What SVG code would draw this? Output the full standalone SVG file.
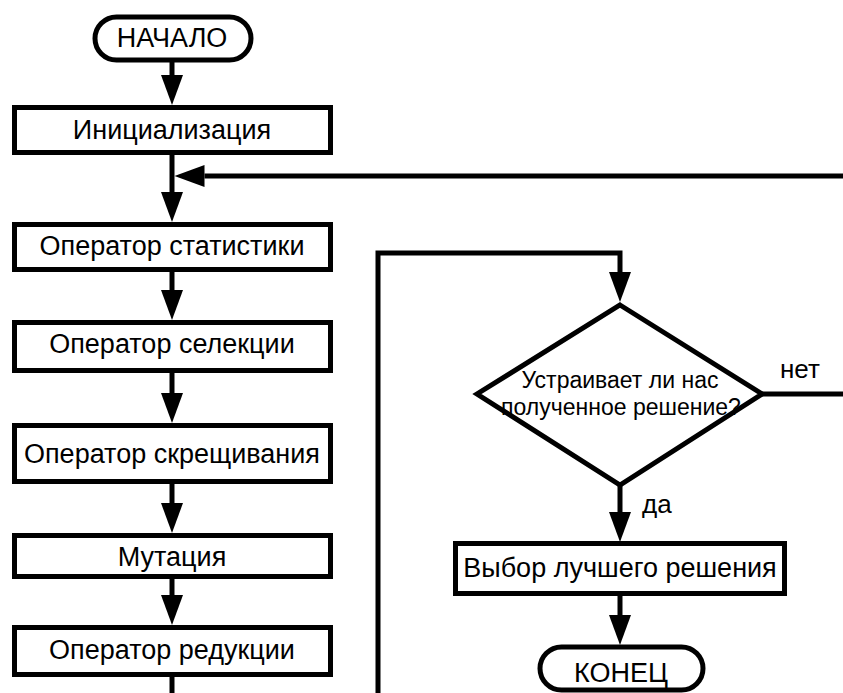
<svg xmlns="http://www.w3.org/2000/svg" width="843" height="693" viewBox="0 0 843 693">
<style>
.box{fill:#fff;stroke:#000;stroke-width:5}
.ln{fill:none;stroke:#000;stroke-width:5}
.t{font-family:"Liberation Sans",Arial,sans-serif;font-size:27px;fill:#000;text-anchor:middle}
.s{font-family:"Liberation Sans",Arial,sans-serif;font-size:23px;fill:#000;text-anchor:middle}
.l{font-family:"Liberation Sans",Arial,sans-serif;font-size:26px;fill:#000}
</style>
<defs>
<marker id="ah" markerUnits="userSpaceOnUse" markerWidth="30" markerHeight="22" refX="0" refY="11" orient="auto" overflow="visible">
<path d="M0,0 L30,11 L0,22 z" fill="#000"/>
</marker>
</defs>
<rect width="843" height="693" fill="#fff"/>
<g id="connectors">
<path class="ln" d="M172,62 V75" marker-end="url(#ah)"/>
<path class="ln" d="M172,155 V192" marker-end="url(#ah)"/>
<path class="ln" d="M843,176 H204.5" marker-end="url(#ah)"/>
<path class="ln" d="M172,272 V290" marker-end="url(#ah)"/>
<path class="ln" d="M172,373 V393" marker-end="url(#ah)"/>
<path class="ln" d="M172,484 V503" marker-end="url(#ah)"/>
<path class="ln" d="M172,579 V595" marker-end="url(#ah)"/>
<path class="ln" d="M172,677 V693"/>
<path class="ln" d="M378,693 V253 H620 V272" marker-end="url(#ah)"/>
<path class="ln" d="M762,394 H843"/>
<path class="ln" d="M620,485 V512" marker-end="url(#ah)"/>
<path class="ln" d="M620,596 V615" marker-end="url(#ah)"/>
<text class="l" x="780" y="378">нет</text>
<text class="l" x="642" y="513">да</text>
</g>
<g id="start">
<rect class="box" x="95" y="17" width="156" height="43" rx="21.5"/>
<text class="t" x="172" y="47">НАЧАЛО</text>
</g>
<g id="init">
<rect class="box" x="14.5" y="107.5" width="316" height="45"/>
<text class="t" x="172" y="139">Инициализация</text>
</g>
<g id="stat">
<rect class="box" x="14.5" y="224.5" width="316" height="45"/>
<text class="t" x="172" y="255">Оператор статистики</text>
</g>
<g id="select">
<rect class="box" x="14.5" y="322.5" width="316" height="48"/>
<text class="t" x="172" y="353">Оператор селекции</text>
</g>
<g id="cross">
<rect class="box" x="14.5" y="425.5" width="316" height="56"/>
<text class="t" x="172" y="463">Оператор скрещивания</text>
</g>
<g id="mutation">
<rect class="box" x="14.5" y="535.5" width="316" height="41"/>
<text class="t" x="172" y="566">Мутация</text>
</g>
<g id="reduce">
<rect class="box" x="14.5" y="627.5" width="316" height="47"/>
<text class="t" x="172" y="659">Оператор редукции</text>
</g>
<g id="decision">
<polygon class="box" points="620,305 762,394 620,485 477,394"/>
<text class="s" x="620" y="388">Устраивает ли нас</text>
<text class="s" x="621" y="415">полученное решение?</text>
</g>
<g id="best">
<rect class="box" x="455.5" y="543.5" width="329" height="50"/>
<text class="t" x="620" y="577">Выбор лучшего решения</text>
</g>
<g id="end">
<rect class="box" x="540" y="647" width="163" height="43" rx="21.5"/>
<text class="t" x="621" y="682">КОНЕЦ</text>
</g>
</svg>
